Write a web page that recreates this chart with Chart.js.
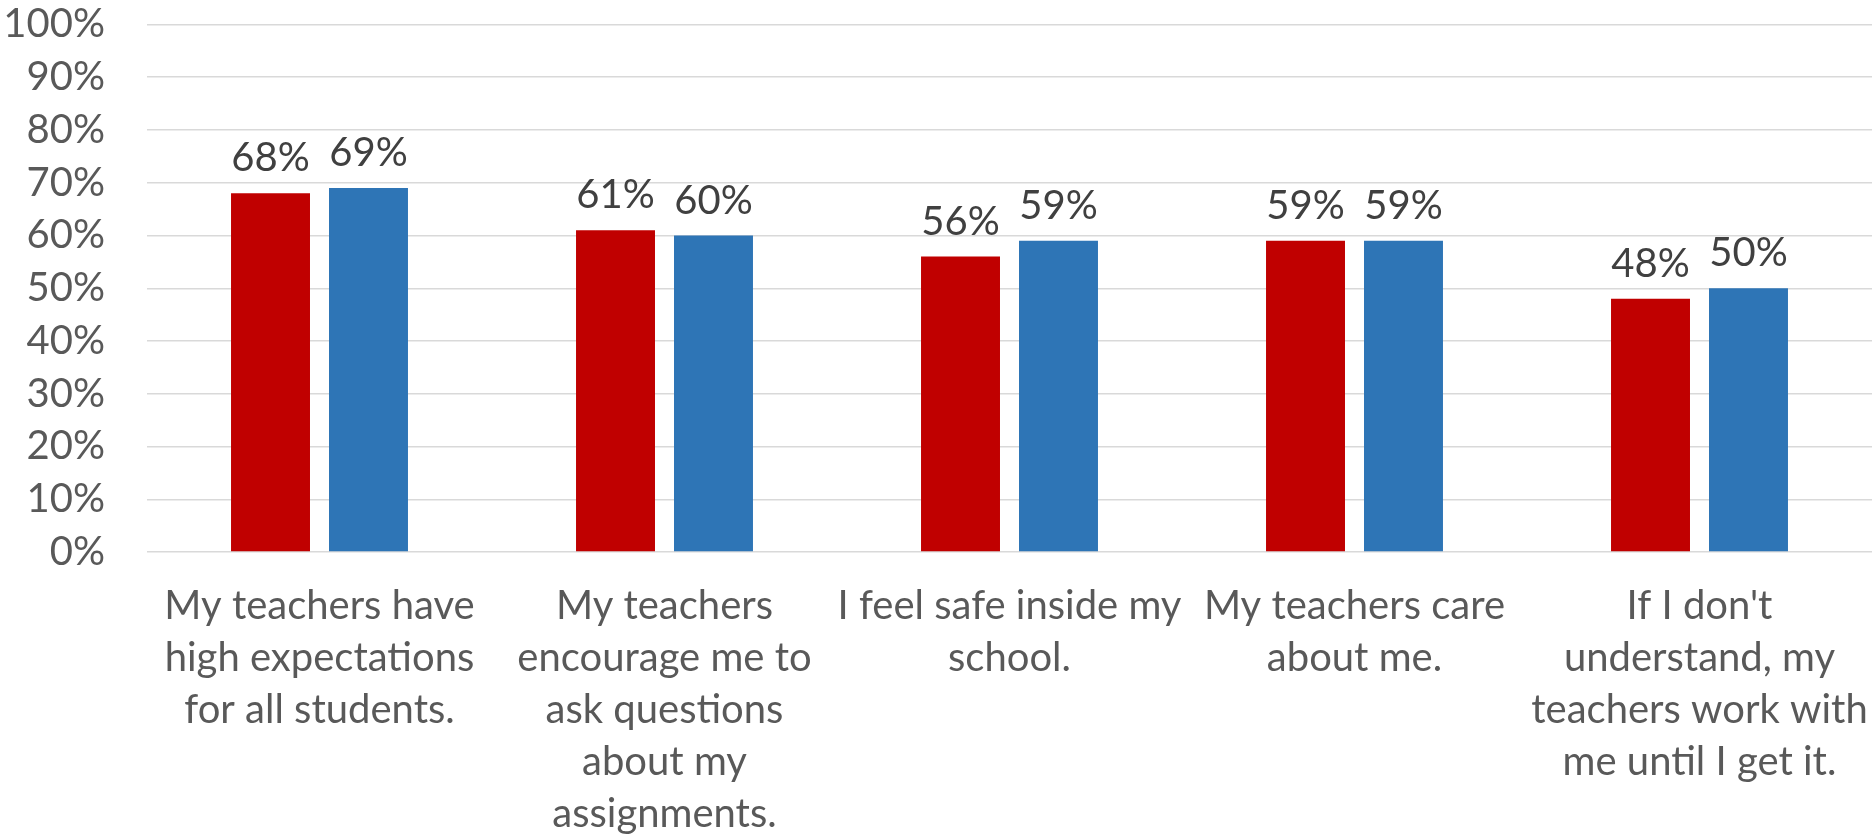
<!DOCTYPE html>
<html>
<head>
<meta charset="utf-8">
<script src="https://cdn.jsdelivr.net/npm/chart.js@4"></script>
<style>
  html, body { margin: 0; padding: 0; background: #ffffff; }
  #wrap { width: 1872px; height: 837px; }
</style>
</head>
<body>
<div id="wrap"><canvas id="surveyChart" width="1872" height="837"></canvas></div>
<script>
const categories = [
  ["My teachers have", "high expectations", "for all students."],
  ["My teachers", "encourage me to", "ask questions", "about my", "assignments."],
  ["I feel safe inside my", "school."],
  ["My teachers care", "about me."],
  ["If I don't", "understand, my", "teachers work with", "me until I get it."]
];
const redValues = [68, 61, 56, 59, 48];
const blueValues = [69, 60, 59, 59, 50];
const yTicks = [0, 10, 20, 30, 40, 50, 60, 70, 80, 90, 100];

const FONT = "Lato, 'Open Sans', sans-serif";

// draw the % labels above each bar
const barLabels = {
  id: "barLabels",
  afterDatasetsDraw(chart) {
    const ctx = chart.ctx;
    ctx.save();
    ctx.font = "40px " + FONT;
    ctx.fillStyle = "#404040";
    ctx.textAlign = "center";
    ctx.textBaseline = "alphabetic";
    chart.data.datasets.forEach((ds, i) => {
      const meta = chart.getDatasetMeta(i);
      meta.data.forEach((bar, j) => {
        ctx.fillText(ds.data[j] + "%", bar.x, bar.y - 22);
      });
    });
    ctx.restore();
  }
};

const ctx = document.getElementById("surveyChart").getContext("2d");
new Chart(ctx, {
  type: "bar",
  data: {
    labels: categories,
    datasets: [
      {
        label: "Red",
        data: redValues,
        backgroundColor: "#C00000",
        categoryPercentage: 0.568,
        barPercentage: 0.806,
      },
      {
        label: "Blue",
        data: blueValues,
        backgroundColor: "#2E75B6",
        categoryPercentage: 0.568,
        barPercentage: 0.806,
      },
    ],
  },
  options: {
    responsive: false,
    animation: false,
    layout: { padding: { top: 24.5, right: 0, left: 0, bottom: 0 } },
    plugins: {
      legend: { display: false },
      tooltip: { enabled: false },
    },
    scales: {
      x: {
        grid: { display: false, drawTicks: false },
        border: { display: false },
        ticks: {
          color: "#595959",
          font: { family: FONT, size: 40, lineHeight: 1.3 },
          padding: 28,
          maxRotation: 0,
          autoSkip: false,
        },
        afterFit(scale) {
          scale.height = 285;
          scale.paddingLeft = 0;
          scale.paddingRight = 0;
        },
      },
      y: {
        min: 0,
        max: 100,
        afterBuildTicks(scale) {
          scale.ticks = yTicks.map((v) => ({ value: v }));
        },
        grid: { color: "#d9d9d9", lineWidth: 1.5, drawTicks: false },
        border: { display: false },
        ticks: {
          color: "#595959",
          font: { family: FONT, size: 40 },
          padding: 42,
          autoSkip: false,
          callback: (v) => v + "%",
        },
        afterFit(scale) {
          scale.width = 147;
          scale.paddingTop = 0;
          scale.paddingBottom = 0;
        },
      },
    },
  },
  plugins: [barLabels],
});
</script>
</body>
</html>
